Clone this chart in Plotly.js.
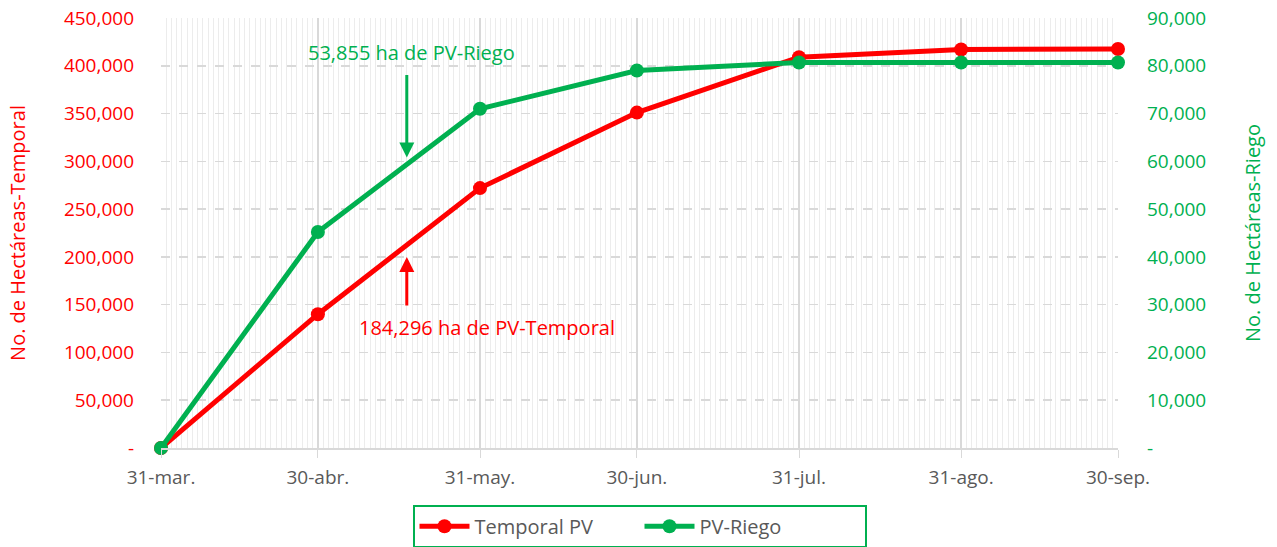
<!DOCTYPE html>
<html><head><meta charset="utf-8">
<script src="https://cdn.plot.ly/plotly-3.0.1.min.js"></script>
<style>html,body{margin:0;padding:0;background:#fff}#c{width:1277px;height:547px}</style>
</head><body><div id="c"></div>
<script>
const dates = ['2023-03-31','2023-04-30','2023-05-31','2023-06-30','2023-07-31','2023-08-31','2023-09-30'];
const dateLabels = ['31-mar.','30-abr.','31-may.','30-jun.','31-jul.','31-ago.','30-sep.'];
const temporalPV = [0, 140000, 272000, 351000, 409000, 417000, 417500];
const pvRiego = [0, 45200, 71000, 79000, 80700, 80700, 80700];
const leftTicks = [0,50000,100000,150000,200000,250000,300000,350000,400000,450000];
const leftTickText = ['-','50,000','100,000','150,000','200,000','250,000','300,000','350,000','400,000','450,000'];
const rightTicks = [0,10000,20000,30000,40000,50000,60000,70000,80000,90000];
const rightTickText = ['-','10,000','20,000','30,000','40,000','50,000','60,000','70,000','80,000','90,000'];
const annotDate = '2023-05-17';
const riegoLabel = '53,855 ha de PV-Riego';
const temporalLabel = '184,296 ha de PV-Temporal';

const RED = '#ff0000', GREEN = '#00b050';
const FONT = '"Open Sans", sans-serif';

const traces = [
  {x: dates, y: temporalPV, name: 'Temporal PV', type: 'scatter', mode: 'lines+markers',
   line: {color: RED, width: 5}, marker: {color: RED, size: 14}, cliponaxis: false, yaxis: 'y'},
  {x: dates, y: pvRiego, name: 'PV-Riego', type: 'scatter', mode: 'lines+markers',
   line: {color: GREEN, width: 5}, marker: {color: GREEN, size: 14}, cliponaxis: false, yaxis: 'y2'}
];

const layout = {
  width: 1277, height: 547,
  margin: {l: 161, r: 159, t: 18, b: 99, autoexpand: false},
  paper_bgcolor: '#fff', plot_bgcolor: '#fff',
  font: {family: FONT, size: 19},
  showlegend: true,
  legend: {orientation: 'h', x: 0.5, xanchor: 'center', y: -0.132, yanchor: 'top',
    bordercolor: GREEN, borderwidth: 2, font: {size: 20, color: '#595959'},
    entrywidth: 160, itemwidth: 50, traceorder: 'normal'},
  xaxis: {
    type: 'date', range: ['2023-03-31', '2023-09-30'],
    tickmode: 'array', tickvals: dates, ticktext: dateLabels,
    tickfont: {color: '#595959', size: 19},
    showgrid: true, gridcolor: '#d9d9d9', gridwidth: 1.5,
    ticks: 'outside', ticklen: 8, tickcolor: '#d9d9d9', ticklabelstandoff: 4,
    showline: true, linecolor: '#d9d9d9', linewidth: 1.5,
    zeroline: false, fixedrange: true,
    minor: {dtick: 86400000, showgrid: true, gridcolor: '#ececec', gridwidth: 1}
  },
  yaxis: {
    range: [0, 450000], tickmode: 'array', tickvals: leftTicks, ticktext: leftTickText,
    tickfont: {color: RED, size: 19}, showgrid: true, gridcolor: '#d9d9d9', griddash: 'dash',
    gridwidth: 1.5, zeroline: false, ticks: '', ticklabelstandoff: 26,
    title: {text: 'No. de Hectáreas-Temporal', font: {color: RED, size: 20}, standoff: 32}
  },
  yaxis2: {
    range: [0, 90000], overlaying: 'y', side: 'right', tickmode: 'array',
    tickvals: rightTicks, ticktext: rightTickText,
    tickfont: {color: GREEN, size: 19}, showgrid: false, zeroline: false, ticks: '',
    ticklabelstandoff: 28,
    title: {text: 'No. de Hectáreas-Riego', font: {color: GREEN, size: 20}, standoff: 40}
  },
  annotations: [
    {x: annotDate, y: 60800, yref: 'y2', xref: 'x', text: '', showarrow: true,
     ax: 0, ay: -84, arrowhead: 2, arrowsize: 1, arrowwidth: 3, arrowcolor: GREEN},
    {x: 411, y: 52, xref: 'paper', yref: 'paper', text: riegoLabel, showarrow: false,
     font: {color: GREEN, size: 20}},
    {x: annotDate, y: 200000, yref: 'y', xref: 'x', text: '', showarrow: true,
     ax: 0, ay: 50, arrowhead: 2, arrowsize: 1, arrowwidth: 3, arrowcolor: RED},
    {x: annotDate, y: 200000, yref: 'y', xref: 'x', text: temporalLabel, showarrow: true,
     ax: 0, ay: 0, arrowcolor: 'rgba(0,0,0,0)', font: {color: RED, size: 20}}
  ]
};

const gd = document.getElementById('c');
Plotly.newPlot(gd, traces, layout, {displayModeBar: false, staticPlot: true}).then(() => {
  const xa = gd._fullLayout.xaxis, ya = gd._fullLayout.yaxis;
  const ann = gd.layout.annotations;
  ann[1] = {x: xa.p2d(411 - xa._offset), y: ya.p2d(52 - ya._offset), xref: 'x', yref: 'y',
    text: riegoLabel, showarrow: false, font: {color: GREEN, size: 20}};
  ann[3] = {x: xa.p2d(487 - xa._offset), y: ya.p2d(327 - ya._offset), xref: 'x', yref: 'y',
    text: temporalLabel, showarrow: false, font: {color: RED, size: 20}};
  return Plotly.relayout(gd, {annotations: ann});
});
</script></body></html>
